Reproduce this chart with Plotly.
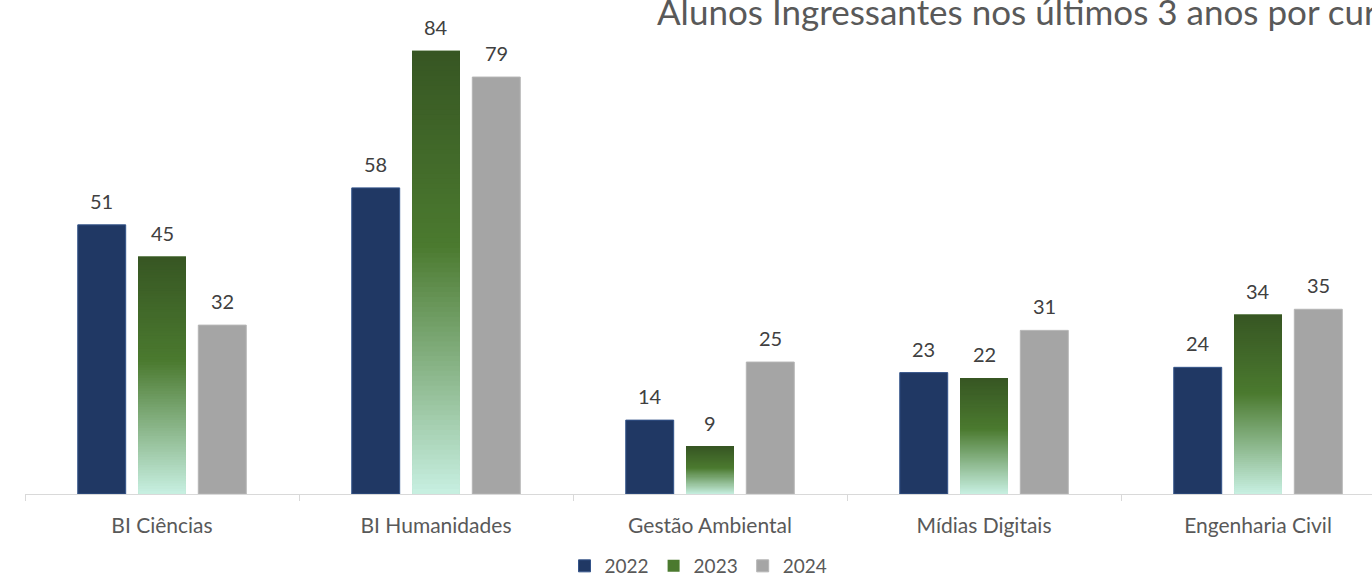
import numpy as np
import plotly.graph_objects as go

categories = ["BI Ciências", "BI Humanidades", "Gestão Ambiental", "Mídias Digitais", "Engenharia Civil"]
years = ["2022", "2023", "2024"]
v2022 = [51, 58, 14, 23, 24]
v2023 = [45, 84, 9, 22, 34]
v2024 = [32, 79, 25, 31, 35]
title_text = "Alunos Ingressantes nos últimos 3 anos por curso"

FONT = "Lato"
W = 0.175
GAP = 0.045
offsets = [-1.5 * W - GAP, -0.5 * W, 0.5 * W + GAP]

# gradient stops for 2023 (fraction from bottom of each bar)
grad_pos = [0.0, 0.56, 1.0]
grad_rgb = np.array([[200, 240, 226], [75, 122, 47], [55, 86, 35]], dtype=float)


def grad_color(t):
    rgb = [np.interp(t, grad_pos, grad_rgb[:, i]) for i in range(3)]
    return "rgb(%d,%d,%d)" % tuple(int(round(c)) for c in rgb)


fig = go.Figure()
fig.add_trace(go.Bar(x=categories, y=v2022, name="2022", width=W, offset=offsets[0],
                     marker=dict(color="#203864", line=dict(color="#34548a", width=1))))
fig.add_trace(go.Bar(x=categories, y=v2023, name="2023", width=W, offset=offsets[1],
                     marker=dict(color="#4b7a2f", line=dict(width=0))))
fig.add_trace(go.Bar(x=categories, y=v2024, name="2024", width=W, offset=offsets[2],
                     marker=dict(color="#a5a5a5", line=dict(color="#b5b5b5", width=1))))

# gradient segments for 2023 bars
K = 90
seg_x, seg_base, seg_h, seg_c = [], [], [], []
for cat, v in zip(categories, v2023):
    h = v / K
    for k in range(K):
        b = v * k / K
        seg_x.append(cat)
        seg_base.append(b)
        seg_h.append(min(h * 1.8, v - b))
        seg_c.append(grad_color((k + 0.5) / K))
fig.add_trace(go.Bar(x=seg_x, y=seg_h, base=seg_base, width=W, offset=offsets[1],
                     marker=dict(color=seg_c, line=dict(width=0)), showlegend=False,
                     hoverinfo="skip"))

# data labels
for vals, off in zip([v2022, v2023, v2024], offsets):
    for i, v in enumerate(vals):
        fig.add_annotation(x=i + off + W / 2, y=v, text=str(v), showarrow=False,
                           yanchor="middle", yshift=24,
                           font=dict(family=FONT, size=20, color="#404040"))

fig.update_layout(
    width=1372, height=576,
    barmode="overlay",
    plot_bgcolor="white", paper_bgcolor="white",
    margin=dict(l=25, r=0, t=19, b=82),
    title=dict(text=title_text, xref="container", x=657 / 1372, xanchor="left",
               yref="container", y=1 - 13 / 576, yanchor="middle",
               font=dict(family=FONT, size=35, color="#595959")),
    showlegend=True,
    legend=dict(orientation="h", x=0.5, xanchor="center",
                yref="container", y=1 - 566 / 576, yanchor="middle",
                font=dict(family=FONT, size=19, color="#595959"),
                itemclick=False, traceorder="normal"),
    xaxis=dict(type="category", categoryarray=categories, range=[-0.5, 4.416],
               showline=True, linecolor="#d9d9d9", linewidth=1,
               tickson="boundaries", ticks="outside", ticklen=6, tickcolor="#d9d9d9",
               ticklabelstandoff=13,
               tickfont=dict(family=FONT, size=21, color="#595959"),
               showgrid=False, zeroline=False, fixedrange=True),
    yaxis=dict(range=[0, 90], visible=False, showgrid=False, zeroline=False),
)

fig.write_html("out.html", config={"displayModeBar": False},
               post_script="document.body.style.margin='0px';")
